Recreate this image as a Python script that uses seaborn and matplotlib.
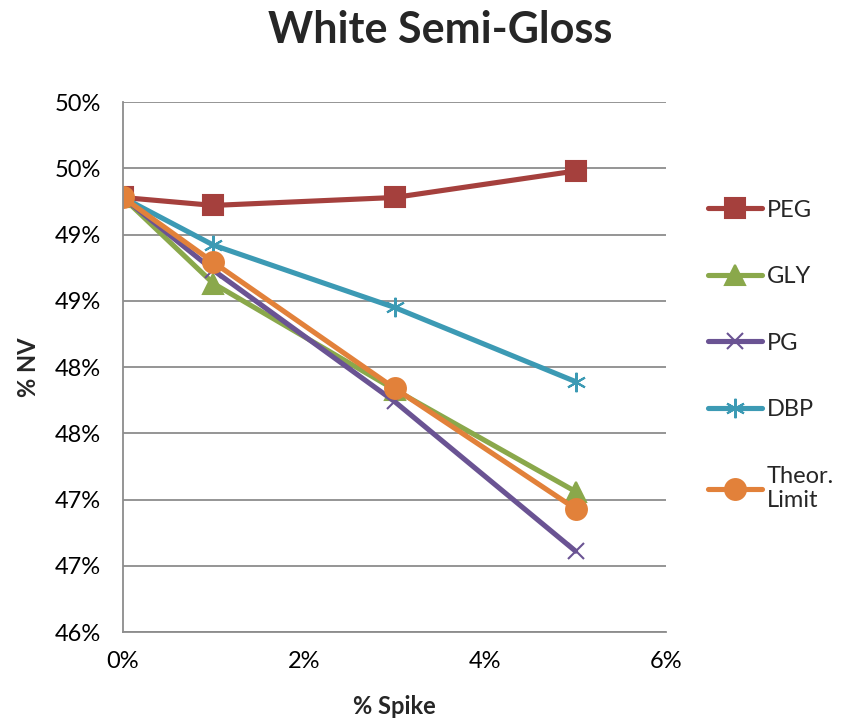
import numpy as np
import pandas as pd
import seaborn as sns
import matplotlib
matplotlib.use("Agg")
import matplotlib.pyplot as plt
from matplotlib.ticker import FuncFormatter, MultipleLocator

# data (% spike vs % NV)
spike = [0, 1, 3, 5]
peg = [49.28, 49.22, 49.28, 49.48]
gly = [49.28, 48.63, 47.83, 47.06]
pg = [49.28, 48.73, 47.74, 46.61]
dbp = [49.28, 48.92, 48.45, 47.89]
theor = [49.28, 48.79, 47.84, 46.93]
series_names = ["PEG", "GLY", "PG", "DBP", "Theor.\nLimit"]
colors = ["#A5403D", "#8AA84B", "#6A5393", "#3C9AB4", "#E2813A"]
markers = ["s", "^", "x", (6, 2, 0), "o"]
msizes = [14, 14, 12, 14, 15]

sns.set_style("white")
plt.rcParams["font.family"] = ["Lato", "DejaVu Sans"]

fig = plt.figure(figsize=(8.54, 7.19), dpi=100)
ax = fig.add_axes([0.144, 0.121, 0.636, 0.737])

for name, vals, c, m, ms in zip(series_names, [peg, gly, pg, dbp, theor], colors, markers, msizes):
    df = pd.DataFrame({"spike": spike, "nv": vals})
    sns.lineplot(data=df, x="spike", y="nv", color=c, marker=m, markersize=ms,
                 markeredgecolor=c, markeredgewidth=1.5, linewidth=3.7, ax=ax,
                 solid_capstyle="round", label=name, legend=False)

ax.set_xlim(0, 6)
ax.set_ylim(46, 50)
ax.xaxis.set_major_locator(MultipleLocator(2))
ax.yaxis.set_major_locator(MultipleLocator(0.5))
ax.xaxis.set_major_formatter(FuncFormatter(lambda v, p: "%d%%" % int(np.floor(v + 0.5))))
ax.yaxis.set_major_formatter(FuncFormatter(lambda v, p: "%d%%" % int(np.floor(v + 0.5 + 1e-9))))
ax.grid(axis="y", color="#8c8c8c", linewidth=1.3)
ax.set_axisbelow(True)
for s in ["top", "right"]:
    ax.spines[s].set_visible(False)
for s in ["left", "bottom"]:
    ax.spines[s].set_color("#8c8c8c")
    ax.spines[s].set_linewidth(1.3)
ax.tick_params(axis="both", labelsize=17, colors="#8c8c8c", labelcolor="black",
               direction="out", length=5, width=1.3, pad=11)
ax.tick_params(axis="x", length=0, pad=14)

ax.set_xlabel("% Spike", fontsize=17, fontweight="bold", labelpad=16)
ax.set_ylabel("% NV", fontsize=17, fontweight="bold", labelpad=10)
fig.text(0.516, 1 - 30 / 719, "White Semi-Gloss", fontsize=31, fontweight="bold",
         ha="center", va="center")

handles = [plt.Line2D([], [], color=c, marker=m, linewidth=3.7, markersize=ms,
                      markeredgecolor=c, markeredgewidth=1.5, solid_capstyle="round")
           for c, m, ms in zip(colors, markers, msizes)]
fig.legend(handles, series_names, loc="upper left", bbox_to_anchor=(0.804, 0.752),
           frameon=False, fontsize=17, handlelength=2.3, handletextpad=0.2,
           labelspacing=1.93)

fig.savefig("out.png", dpi=100)
